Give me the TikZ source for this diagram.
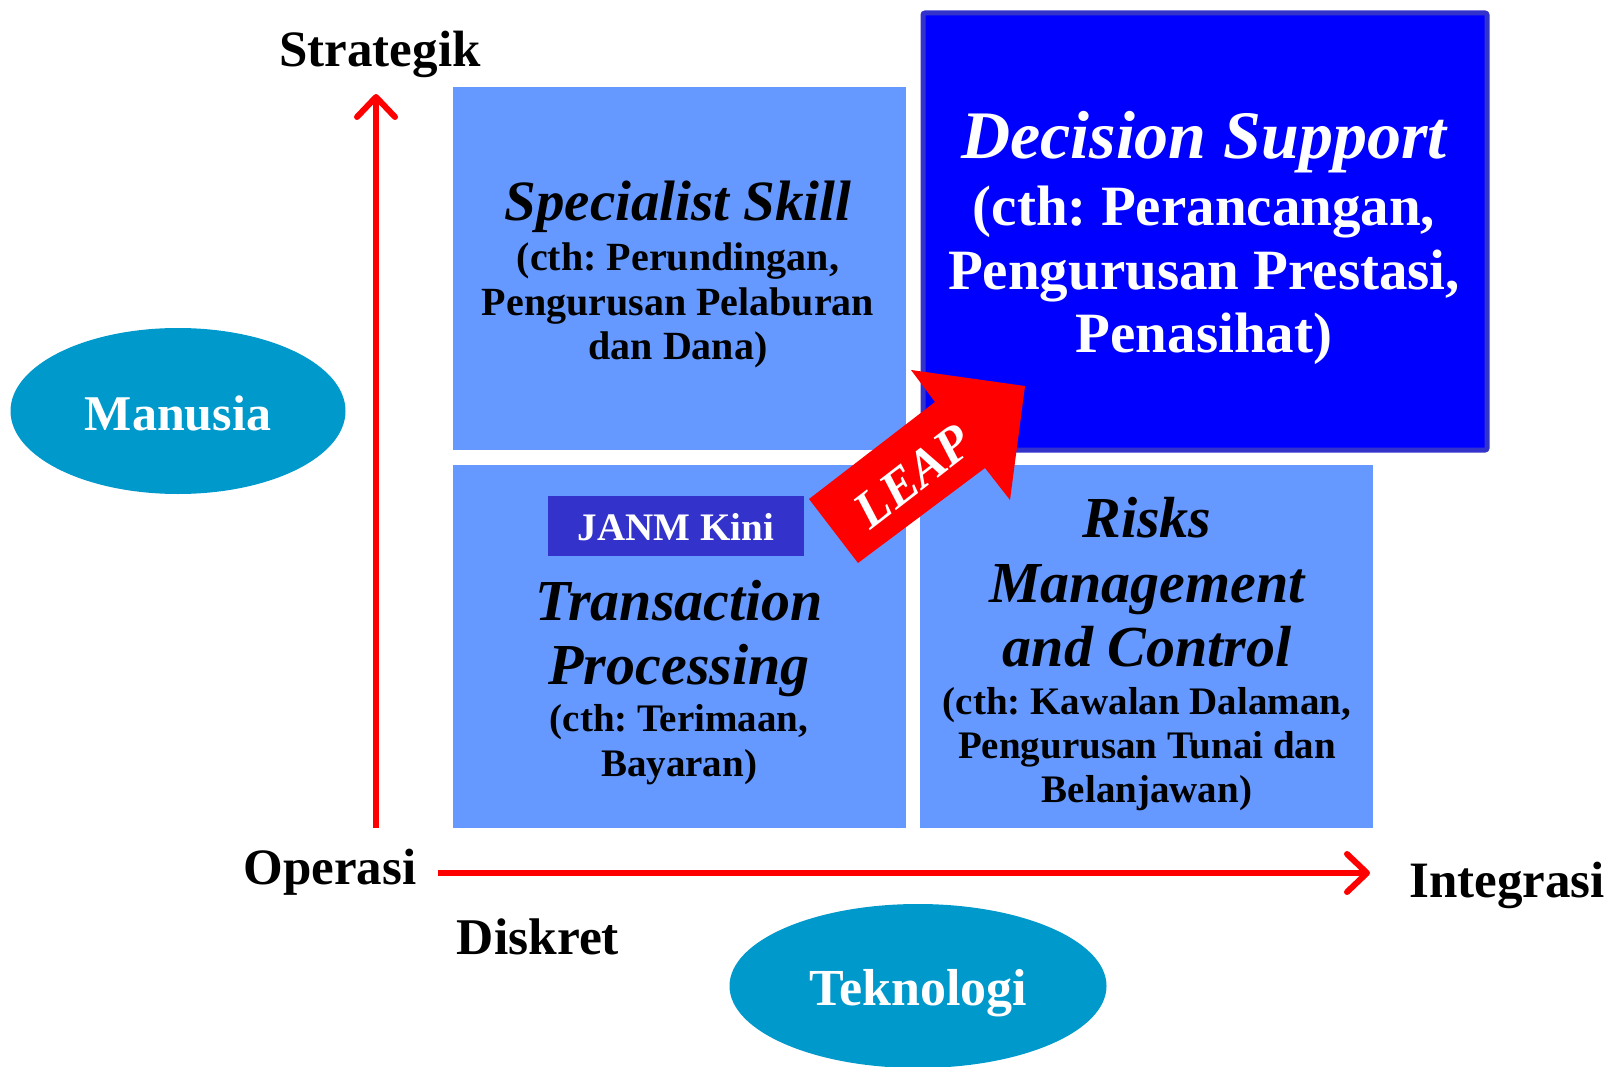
\documentclass[tikz,border=0pt]{standalone}
\usepackage{fontspec}
\setmainfont{Liberation Serif}
\usetikzlibrary{arrows.meta,shapes.geometric}
\definecolor{boxblue}{HTML}{6699FF}
\definecolor{dsblue}{HTML}{0000FF}
\definecolor{dsborder}{HTML}{3333CC}
\definecolor{ellblue}{HTML}{0099CC}
\tikzset{
  quad/.style={fill=boxblue, draw=none, inner sep=0pt, anchor=north west},
  txt/.style={inner sep=0pt, anchor=base, font=\bfseries},
  axis/.style={draw=red, line width=6pt, -{Straight Barb[length=20pt,width=38pt,round]}},
  oval/.style={ellipse, fill=ellblue, draw=none, inner sep=0pt},
}
\newcommand{\fs}[1]{\fontsize{#1}{#1}\selectfont}
\frenchspacing
\begin{document}
\begin{tikzpicture}[x=1pt,y=-1pt]
\useasboundingbox (0,0) rectangle (1616,1067);
% quadrants
\node[quad, minimum width=453pt, minimum height=363pt] (spec) at (452.5,86.5) {};
\node[quad, minimum width=453pt, minimum height=363pt] (trans) at (452.5,465) {};
\node[quad, minimum width=453pt, minimum height=363pt] (risk) at (920,465) {};
\node[fill=dsblue, draw=dsborder, line width=5pt, rounded corners=2pt, inner sep=0pt,
      minimum width=564pt, minimum height=437pt, anchor=north west] (dec) at (920.5,10.5) {};
% axes
\coordinate (origV) at (376,828);
\coordinate (topV) at (376,94);
\coordinate (origH) at (438,873);
\coordinate (endH) at (1370,873);
\draw[axis] (origV) -- (topV);
\draw[axis] (origH) -- (endH);
% axis labels
\node[txt, font=\bfseries\fs{51}] (strat) at (380,67) {Strategik};
\node[txt, font=\bfseries\fs{51}] (oper) at (330,884) {Operasi};
\node[txt, font=\bfseries\fs{51.5}] (disk) at (538,954) {Diskret};
\node[txt, font=\bfseries\fs{51}] (integ) at (1507,897) {Integrasi};
% ellipses
\node[oval, minimum width=335pt, minimum height=166pt] (man) at (178,411) {};
\node[txt, text=white, font=\bfseries\fs{50}] (manT) at (178,430) {Manusia};
\node[oval, minimum width=377pt, minimum height=164pt] (tek) at (918,986) {};
\node[txt, text=white, font=\bfseries\fs{52}] (tekT) at (918,1005) {Teknologi};
% Specialist
\node[txt, font=\bfseries\itshape\fs{57}] (specT) at (678,221) {Specialist Skill};
\node[txt, font=\bfseries\fs{40}] (specB1) at (678,271) {(cth: Perundingan,};
\node[txt, font=\bfseries\fs{40}] (specB2) at (678,315) {Pengurusan Pelaburan};
\node[txt, font=\bfseries\fs{40}] (specB3) at (678,359) {dan Dana)};
% Decision
\node[txt, text=white, font=\bfseries\itshape\fs{68}] (decT) at (1204,159) {Decision Support};
\node[txt, text=white, font=\bfseries\fs{57}] (decB1) at (1204,226) {(cth: Perancangan,};
\node[txt, text=white, font=\bfseries\fs{57}] (decB2) at (1204,290) {Pengurusan Prestasi,};
\node[txt, text=white, font=\bfseries\fs{57}] (decB3) at (1204,352) {Penasihat)};
% JANM Kini
\node[fill=dsborder, inner sep=0pt, minimum width=256pt, minimum height=60pt, anchor=north west] (janm) at (548,496) {};
\node[txt, text=white, font=\bfseries\fs{39}] (janmT) at (676,540) {JANM Kini};
% Transaction
\node[txt, font=\bfseries\itshape\fs{58}] (trT1) at (679,620) {Transaction};
\node[txt, font=\bfseries\itshape\fs{58}] (trT2) at (679,684) {Processing};
\node[txt, font=\bfseries\fs{39}] (trB1) at (679,731) {(cth: Terimaan,};
\node[txt, font=\bfseries\fs{39}] (trB2) at (679,776) {Bayaran)};
% Risks
\node[txt, font=\bfseries\itshape\fs{58}] (rkT1) at (1147,537) {Risks};
\node[txt, font=\bfseries\itshape\fs{58}] (rkT2) at (1147,602) {Management};
\node[txt, font=\bfseries\itshape\fs{58}] (rkT3) at (1147,666) {and Control};
\node[txt, font=\bfseries\fs{39}] (rkB1) at (1147,714) {(cth: Kawalan Dalaman,};
\node[txt, font=\bfseries\fs{39}] (rkB2) at (1147,758) {Pengurusan Tunai dan};
\node[txt, font=\bfseries\fs{39}] (rkB3) at (1147,802) {Belanjawan)};
% LEAP arrow
\fill[red] (809,499) -- (935,402) -- (911,370) -- (1025,386) -- (1010,500) -- (985,468) -- (858,563) -- cycle;
\node[inner sep=0pt, text=white, rotate=37.6, font=\bfseries\itshape\fs{52}] (leap) at (913,476) {LEAP};
\end{tikzpicture}
\end{document}
